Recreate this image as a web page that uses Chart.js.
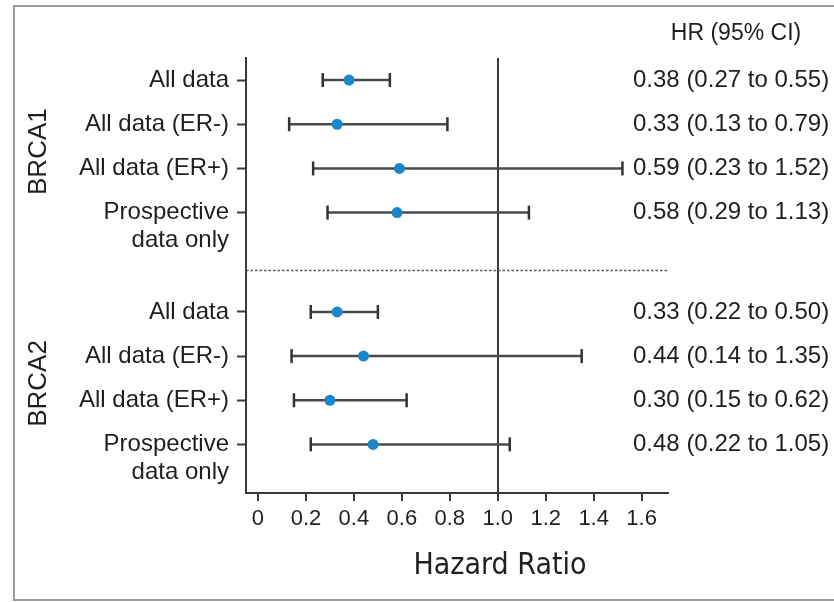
<!DOCTYPE html>
<html><head><meta charset="utf-8">
<script src="https://cdn.jsdelivr.net/npm/chart.js@4.4.1/dist/chart.umd.min.js"></script>
<style>html,body{margin:0;padding:0;background:#fff;}#wrap{position:relative;width:834px;height:602px;}</style>
</head><body><div id="wrap"><canvas id="c"></canvas></div>
<script>
// ---- data ----
const groups = ['BRCA1', 'BRCA2'];
const rowLabels = ['All data', 'All data (ER-)', 'All data (ER+)', 'Prospective'];
const rowSubLabels = ['', '', '', 'data only'];
const brca1HR   = [0.38, 0.33, 0.59, 0.58];
const brca1Low  = [0.27, 0.13, 0.23, 0.29];
const brca1High = [0.55, 0.79, 1.52, 1.13];
const brca2HR   = [0.33, 0.44, 0.30, 0.48];
const brca2Low  = [0.22, 0.14, 0.15, 0.22];
const brca2High = [0.50, 1.35, 0.62, 1.05];
const xTickValues = [0, 0.2, 0.4, 0.6, 0.8, 1.0, 1.2, 1.4, 1.6];
const xTickLabels = ['0', '0.2', '0.4', '0.6', '0.8', '1.0', '1.2', '1.4', '1.6'];
const headerText = 'HR (95% CI)';
const axisTitle = 'Hazard Ratio';
const referenceHR = 1.0;

// ---- layout (positions on the linear y axis) ----
const GROUP_START = [0, 5.25];
const SUBLINE_OFFSET = 0.63;
const DIVIDER_Y = 4.3;
const FONT = '"Liberation Sans", Arial, Helvetica, sans-serif';
const NARROW = '"DejaVu Sans Condensed", "Liberation Sans Narrow", sans-serif';
const TEXT = '#1f1f1f';
const AXIS = '#3a3a3a';

const groupData = [
  {hr: brca1HR, lo: brca1Low, hi: brca1High},
  {hr: brca2HR, lo: brca2Low, hi: brca2High}
];
const rows = [];
groupData.forEach((g, gi) => {
  g.hr.forEach((v, i) => {
    rows.push({group: gi, y: GROUP_START[gi] + i, hr: v, lo: g.lo[i], hi: g.hi[i], label: rowLabels[i], sub: rowSubLabels[i]});
  });
});

const yTicks = [];
rows.forEach(r => {
  yTicks.push({value: r.y, label: r.label, kind: 'row'});
  if (r.sub) yTicks.push({value: r.y + SUBLINE_OFFSET, label: r.sub, kind: 'sub'});
});

const ciDatasets = rows.map(r => ({
  type: 'scatter',
  showLine: true,
  data: [{x: r.lo, y: r.y}, {x: r.hi, y: r.y}],
  borderColor: '#4a4a4a',
  borderWidth: 2.5,
  pointStyle: 'line',
  rotation: 90,
  pointRadius: 7,
  pointHoverRadius: 7,
  pointBorderWidth: 2.5,
  pointBorderColor: '#333',
  order: 2
}));

const pointDataset = {
  type: 'scatter',
  data: rows.map(r => ({x: r.hr, y: r.y})),
  backgroundColor: '#1b87c9',
  borderWidth: 0,
  pointRadius: 5.5,
  pointHoverRadius: 5.5,
  order: 0
};

const textPlugin = {
  id: 'forestText',
  beforeDraw(chart) {
    const ctx = chart.ctx;
    ctx.save();
    ctx.strokeStyle = '#9a9a9a';
    ctx.lineWidth = 2;
    ctx.strokeRect(14, 6, 840, 594);
    ctx.restore();
  },
  afterDraw(chart) {
    const ctx = chart.ctx;
    const ys = chart.scales.y;
    const area = chart.chartArea;
    ctx.save();
    // divider
    ctx.strokeStyle = '#555';
    ctx.lineWidth = 1.5;
    ctx.setLineDash([2.5, 2]);
    const dy = Math.round(ys.getPixelForValue(DIVIDER_Y)) + 0.5;
    ctx.beginPath();
    ctx.moveTo(area.left, dy);
    ctx.lineTo(area.right, dy);
    ctx.stroke();
    ctx.setLineDash([]);
    // header
    ctx.fillStyle = TEXT;
    ctx.font = '23px ' + FONT;
    ctx.textAlign = 'center';
    ctx.textBaseline = 'middle';
    ctx.fillText(headerText, 736, 34);
    // HR column
    ctx.font = '24px ' + FONT;
    ctx.textAlign = 'left';
    rows.forEach(r => {
      const t = r.hr.toFixed(2) + ' (' + r.lo.toFixed(2) + ' to ' + r.hi.toFixed(2) + ')';
      ctx.fillText(t, 633, ys.getPixelForValue(r.y));
    });
    // group labels
    ctx.font = '26px ' + FONT;
    ctx.textAlign = 'center';
    groups.forEach((g, gi) => {
      const ry = rows.filter(r => r.group === gi).map(r => r.y);
      const mid = (ry[0] + ry[ry.length - 1]) / 2 + 0.12;
      ctx.save();
      ctx.translate(39, ys.getPixelForValue(mid));
      ctx.rotate(-Math.PI / 2);
      ctx.fillText(g, 0, 0);
      ctx.restore();
    });
    // axis title
    ctx.font = '30px ' + NARROW;
    ctx.textAlign = 'center';
    ctx.fillText(axisTitle, 500, 566);
    ctx.restore();
  }
};

new Chart(document.getElementById('c'), {
  type: 'scatter',
  data: {datasets: [pointDataset, ...ciDatasets]},
  options: {
    responsive: true,
    maintainAspectRatio: false,
    animation: false,
    layout: {padding: {left: 0, top: 58, right: 166, bottom: 0}},
    plugins: {legend: {display: false}, tooltip: {enabled: false}},
    scales: {
      x: {
        type: 'linear',
        min: -0.05,
        max: 1.71,
        afterBuildTicks: s => { s.ticks = xTickValues.map(v => ({value: v})); },
        afterFit: s => { s.height = 109; },
        ticks: {
          autoSkip: false,
          maxRotation: 0,
          padding: 5,
          color: TEXT,
          font: {family: FONT, size: 22},
          callback: (v, i) => xTickLabels[i]
        },
        grid: {
          drawOnChartArea: true,
          color: c => (c.tick && Math.abs(c.tick.value - referenceHR) < 1e-9) ? AXIS : 'rgba(0,0,0,0)',
          lineWidth: 2,
          tickColor: AXIS,
          tickWidth: 2,
          tickLength: 8
        },
        border: {display: true, color: AXIS, width: 2},
        title: {display: false}
      },
      y: {
        type: 'linear',
        reverse: true,
        min: -0.5,
        max: 9.35,
        afterBuildTicks: s => { s.ticks = yTicks.map(t => ({value: t.value})); },
        afterFit: s => { s.width = 246; },
        ticks: {
          autoSkip: false,
          padding: 8,
          color: TEXT,
          font: {family: FONT, size: 24},
          callback: (v, i) => yTicks[i].label
        },
        grid: {
          drawOnChartArea: false,
          tickColor: c => (yTicks[c.index] && yTicks[c.index].kind === 'row') ? AXIS : 'rgba(0,0,0,0)',
          tickWidth: 2,
          tickLength: 9
        },
        border: {display: true, color: AXIS, width: 2}
      }
    }
  },
  plugins: [textPlugin]
});
</script>
</body></html>
